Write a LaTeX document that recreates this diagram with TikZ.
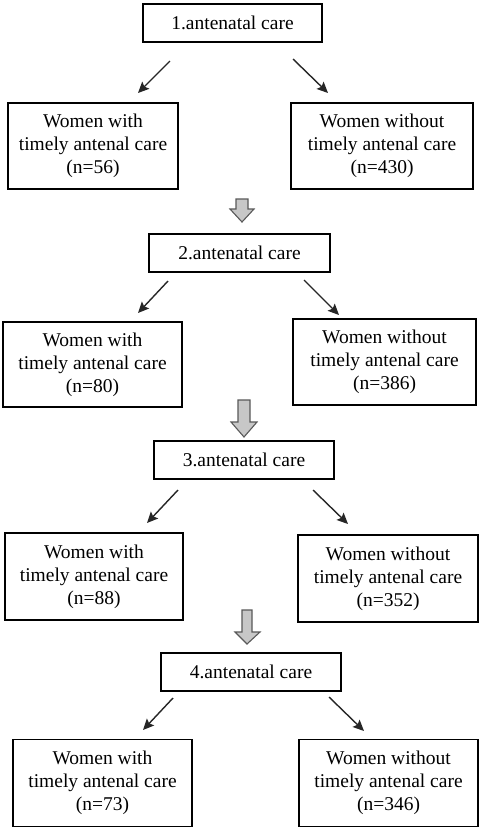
\documentclass[tikz,border=0pt]{standalone}
\usepackage{fontspec}
\setmainfont{Liberation Serif}
\usetikzlibrary{arrows.meta,shapes.arrows}
\begin{document}
\begin{tikzpicture}[x=1pt,y=-1pt,
  hdr/.style={draw=black,line width=1.2pt,minimum height=38pt,inner sep=0pt,
    font=\fontsize{19.5}{23}\selectfont},
  grp/.style={draw=black,line width=1.2pt,minimum height=86pt,inner sep=0pt,align=center,
    font=\fontsize{19.5}{23}\selectfont},
  conn/.style={-{Stealth[length=11pt,width=10pt,inset=2pt]},line width=1.4pt,black!85},
  blk/.style={draw=black!65,fill=black!22,line width=1.1pt,line join=miter}]
\useasboundingbox (0,0) rectangle (479,828);
\fill[white] (0,0) rectangle (479,828);

% level 1
\node[hdr,minimum width=179pt] (h1) at (232.5,23) {1.antenatal care};
\node[grp,minimum width=170pt] (l1) at (93,146) {Women with\\timely antenal care\\(n=56)};
\node[grp,minimum width=182pt] (r1) at (382,146) {Women without\\timely antenal care\\(n=430)};
\coordinate (h1a) at (170,61); \coordinate (l1a) at (138,93);
\coordinate (h1b) at (293,59); \coordinate (r1b) at (328,93);
\draw[conn] (h1a) -- (l1a);
\draw[conn] (h1b) -- (r1b);

% block arrow 1
\draw[blk] (236,199) -- (248,199) -- (248,209) -- (254,209) -- (242,222) -- (230,209) -- (236,209) -- cycle;

% level 2
\node[hdr,minimum width=181pt] (h2) at (239.5,253) {2.antenatal care};
\node[grp,minimum width=179pt,minimum height=85pt] (l2) at (92.5,364.5) {Women with\\timely antenal care\\(n=80)};
\node[grp,minimum width=183pt] (r2) at (384.5,362) {Women without\\timely antenal care\\(n=386)};
\coordinate (h2a) at (168,281); \coordinate (l2a) at (138,313);
\coordinate (h2b) at (304,280); \coordinate (r2b) at (339,315);
\draw[conn] (h2a) -- (l2a);
\draw[conn] (h2b) -- (r2b);

% block arrow 2
\draw[blk] (238,400) -- (250,400) -- (250,422) -- (257,422) -- (244,437) -- (231,422) -- (238,422) -- cycle;

% level 3
\node[hdr,minimum width=180pt] (h3) at (244,460) {3.antenatal care};
\node[grp,minimum width=178pt,minimum height=87pt] (l3) at (94,576.5) {Women with\\timely antenal care\\(n=88)};
\node[grp,minimum width=180pt,minimum height=87pt] (r3) at (388,578.5) {Women without\\timely antenal care\\(n=352)};
\coordinate (h3a) at (178,490); \coordinate (l3a) at (147,523);
\coordinate (h3b) at (313,490); \coordinate (r3b) at (348,524);
\draw[conn] (h3a) -- (l3a);
\draw[conn] (h3b) -- (r3b);

% block arrow 3
\draw[blk] (242,610) -- (252,610) -- (252,632) -- (260,632) -- (247,644) -- (235,632) -- (242,632) -- cycle;

% level 4
\node[hdr,minimum width=180pt] (h4) at (251,672) {4.antenatal care};
\node[grp,minimum width=179pt,minimum height=87pt] (l4) at (102.5,783) {Women with\\timely antenal care\\(n=73)};
\node[grp,minimum width=179pt,minimum height=87pt] (r4) at (388.5,783) {Women without\\timely antenal care\\(n=346)};
\coordinate (h4a) at (173,698); \coordinate (l4a) at (143,730);
\coordinate (h4b) at (329,697); \coordinate (r4b) at (364,731);
\draw[conn] (h4a) -- (l4a);
\draw[conn] (h4b) -- (r4b);
\end{tikzpicture}
\end{document}
